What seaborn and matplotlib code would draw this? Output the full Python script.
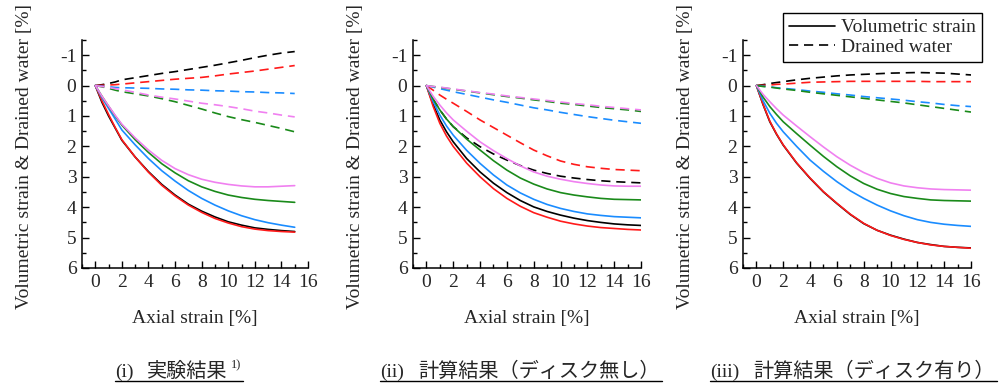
import numpy as np
import pandas as pd
import matplotlib
matplotlib.use("Agg")
import matplotlib.pyplot as plt
import seaborn as sns
from matplotlib.lines import Line2D
from matplotlib.ticker import MultipleLocator


# ======================================================
# DATA
# ======================================================

CASES = ["black", "red", "blue", "green", "pink"]

# (i) experiment, axial strain up to 15 %
x_exp = [0, 0.5, 1, 1.5, 2, 3, 4, 5, 6, 7, 8, 9, 10, 11, 12, 13, 14, 15]

exp_vol = {
    "black": [0, 0.55, 1.0, 1.4, 1.8, 2.35, 2.83, 3.25, 3.6, 3.9, 4.13, 4.32, 4.48, 4.59, 4.68, 4.73, 4.77, 4.80],
    "red":   [0, 0.5, 0.95, 1.38, 1.78, 2.35, 2.85, 3.28, 3.63, 3.93, 4.17, 4.37, 4.52, 4.64, 4.72, 4.77, 4.80, 4.82],
    "blue":  [0, 0.4, 0.75, 1.1, 1.46, 1.95, 2.4, 2.8, 3.14, 3.45, 3.71, 3.93, 4.12, 4.28, 4.41, 4.51, 4.59, 4.66],
    "green": [0, 0.35, 0.68, 1.0, 1.3, 1.78, 2.2, 2.57, 2.87, 3.13, 3.33, 3.48, 3.6, 3.68, 3.74, 3.78, 3.81, 3.84],
    "pink":  [0, 0.35, 0.67, 0.98, 1.27, 1.72, 2.12, 2.46, 2.73, 2.93, 3.08, 3.18, 3.25, 3.3, 3.33, 3.33, 3.31, 3.29],
}

exp_water = {
    "black": [0, -0.03, -0.07, -0.12, -0.19, -0.26, -0.33, -0.4, -0.46, -0.53, -0.6, -0.67, -0.75, -0.83, -0.92, -1.0, -1.07, -1.12],
    "red":   [0, -0.01, -0.02, -0.03, -0.05, -0.09, -0.13, -0.17, -0.21, -0.24, -0.27, -0.32, -0.38, -0.43, -0.48, -0.54, -0.6, -0.66],
    "blue":  [0, 0.02, 0.04, 0.06, 0.07, 0.08, 0.09, 0.11, 0.12, 0.14, 0.15, 0.17, 0.18, 0.2, 0.21, 0.23, 0.24, 0.26],
    "green": [0, 0.04, 0.09, 0.15, 0.2, 0.27, 0.34, 0.43, 0.53, 0.65, 0.77, 0.9, 1.02, 1.12, 1.21, 1.31, 1.41, 1.52],
    "pink":  [0, 0.03, 0.06, 0.1, 0.14, 0.22, 0.31, 0.38, 0.44, 0.51, 0.58, 0.63, 0.69, 0.76, 0.84, 0.9, 0.97, 1.03],
}

# (ii) / (iii) calculations, axial strain up to 16 %
x_calc = [0, 0.5, 1, 1.5, 2, 3, 4, 5, 6, 7, 8, 9, 10, 11, 12, 13, 14, 15, 16]

nodisk_vol = {
    "black": [0, 0.62, 1.13, 1.52, 1.85, 2.4, 2.84, 3.21, 3.52, 3.78, 3.99, 4.14, 4.26, 4.36, 4.44, 4.5, 4.55, 4.58, 4.6],
    "red":   [0, 0.68, 1.24, 1.66, 2.0, 2.55, 3.0, 3.39, 3.71, 3.97, 4.18, 4.33, 4.46, 4.55, 4.62, 4.67, 4.70, 4.73, 4.75],
    "blue":  [0, 0.52, 0.97, 1.33, 1.63, 2.13, 2.56, 2.94, 3.27, 3.53, 3.74, 3.91, 4.04, 4.14, 4.22, 4.27, 4.31, 4.33, 4.35],
    "green": [0, 0.44, 0.8, 1.1, 1.35, 1.76, 2.12, 2.47, 2.78, 3.04, 3.24, 3.4, 3.52, 3.6, 3.66, 3.71, 3.74, 3.75, 3.76],
    "pink":  [0, 0.35, 0.64, 0.9, 1.13, 1.5, 1.85, 2.14, 2.4, 2.64, 2.84, 2.98, 3.08, 3.16, 3.22, 3.27, 3.3, 3.31, 3.31],
}

nodisk_water = {
    "black": [0, 0.45, 0.8, 1.1, 1.35, 1.72, 2.01, 2.25, 2.45, 2.63, 2.78, 2.89, 2.98, 3.04, 3.09, 3.13, 3.16, 3.18, 3.2],
    "red":   [0, 0.15, 0.31, 0.45, 0.58, 0.85, 1.13, 1.38, 1.63, 1.88, 2.12, 2.31, 2.48, 2.59, 2.67, 2.72, 2.76, 2.78, 2.8],
    "blue":  [0, 0.05, 0.1, 0.15, 0.2, 0.29, 0.38, 0.47, 0.55, 0.64, 0.73, 0.8, 0.88, 0.95, 1.02, 1.08, 1.14, 1.19, 1.24],
    "green": [0, 0.03, 0.06, 0.09, 0.12, 0.18, 0.24, 0.3, 0.36, 0.41, 0.47, 0.52, 0.58, 0.62, 0.67, 0.72, 0.76, 0.8, 0.85],
    "pink":  [0, 0.03, 0.05, 0.08, 0.11, 0.17, 0.23, 0.28, 0.34, 0.39, 0.44, 0.49, 0.54, 0.59, 0.63, 0.68, 0.72, 0.76, 0.8],
}

disk_vol = {
    "black": [0, 0.63, 1.19, 1.6, 1.96, 2.55, 3.05, 3.5, 3.88, 4.24, 4.54, 4.76, 4.92, 5.05, 5.16, 5.23, 5.29, 5.32, 5.34],
    "red":   [0, 0.62, 1.17, 1.59, 1.95, 2.54, 3.04, 3.49, 3.87, 4.23, 4.53, 4.76, 4.93, 5.06, 5.16, 5.24, 5.29, 5.32, 5.35],
    "blue":  [0, 0.5, 0.91, 1.24, 1.52, 2.0, 2.45, 2.82, 3.16, 3.46, 3.71, 3.93, 4.12, 4.28, 4.41, 4.5, 4.56, 4.6, 4.63],
    "green": [0, 0.38, 0.69, 0.95, 1.19, 1.58, 1.96, 2.33, 2.67, 2.97, 3.22, 3.41, 3.55, 3.65, 3.71, 3.76, 3.78, 3.79, 3.8],
    "pink":  [0, 0.29, 0.53, 0.76, 0.97, 1.33, 1.68, 2.02, 2.34, 2.62, 2.86, 3.05, 3.2, 3.3, 3.36, 3.4, 3.42, 3.43, 3.44],
}

disk_water = {
    "black": [0, -0.03, -0.07, -0.1, -0.13, -0.19, -0.24, -0.28, -0.32, -0.35, -0.37, -0.39, -0.41, -0.42, -0.43, -0.42, -0.41, -0.38, -0.35],
    "red":   [0, -0.01, -0.02, -0.04, -0.05, -0.08, -0.11, -0.12, -0.13, -0.14, -0.14, -0.14, -0.14, -0.14, -0.14, -0.13, -0.13, -0.13, -0.13],
    "blue":  [0, 0.02, 0.04, 0.07, 0.09, 0.13, 0.18, 0.22, 0.27, 0.31, 0.36, 0.4, 0.44, 0.48, 0.53, 0.57, 0.62, 0.66, 0.69],
    "green": [0, 0.03, 0.05, 0.08, 0.11, 0.16, 0.22, 0.27, 0.32, 0.37, 0.42, 0.47, 0.52, 0.57, 0.63, 0.69, 0.75, 0.81, 0.87],
}

CAPTIONS = [("(i)", "実験結果", "1)"),
            ("(ii)", "計算結果（ディスク無し）", ""),
            ("(iii)", "計算結果（ディスク有り）", "")]

X_TICKS = list(range(0, 17, 2))
Y_TICKS = list(range(-1, 7))


# ======================================================
# STYLE
# ======================================================

sns.set_style("ticks")
plt.rcParams["font.family"] = ["Liberation Serif", "Noto Sans CJK JP"]
plt.rcParams["axes.unicode_minus"] = False
plt.rcParams["font.size"] = 13

PALETTE = {
    "black": "#000000",
    "red": "#ff1a1a",
    "blue": "#1a8cff",
    "green": "#1a8a1a",
    "pink": "#f080f0",
}
DASH = (5.5, 3.5)
DASHES = {"vol": "", "water": DASH}


# ======================================================
# HELPERS
# ======================================================

def to_long(x, vol, water):
    rows = []
    for kind, series in (("water", water), ("vol", vol)):
        for case in CASES:
            if case not in series:
                continue
            for xi, yi in zip(x, series[case]):
                rows.append({"axial": xi, "value": yi, "case": case, "kind": kind})
    return pd.DataFrame(rows)


def style_axis(ax):
    ax.set_xlim(-1, 16)
    ax.set_ylim(6, -1.5)
    ax.set_xticks(X_TICKS)
    ax.set_yticks(Y_TICKS)
    ax.set_yticklabels([str(v) for v in Y_TICKS])
    ax.xaxis.set_minor_locator(MultipleLocator(1))
    ax.yaxis.set_minor_locator(MultipleLocator(0.5))
    ax.tick_params(which="major", direction="in", length=5, width=1,
                   labelsize=14, pad=4, color="black")
    ax.tick_params(which="minor", direction="in", length=3, width=1, color="black")
    for side in ("top", "right"):
        ax.spines[side].set_visible(False)
    for side in ("left", "bottom"):
        ax.spines[side].set_linewidth(1.1)
        ax.spines[side].set_color("black")
    ax.set_xlabel("Axial strain [%]", fontsize=14, labelpad=14)
    ax.set_ylabel("Volumetric strain & Drained water [%]", fontsize=14)
    ax.yaxis.set_label_coords(-0.215, 0.487)


# ======================================================
# PLOT
# ======================================================

def main():

    fig = plt.figure(figsize=(10.07, 3.83), dpi=100)
    W, H = 1007, 383

    lefts = [82, 413, 743]
    widths = [226, 228, 228]
    panels = [
        (x_exp, exp_vol, exp_water),
        (x_calc, nodisk_vol, nodisk_water),
        (x_calc, disk_vol, disk_water),
    ]

    axes = []
    for left, width, (x, vol, water) in zip(lefts, widths, panels):
        ax = fig.add_axes([left / W, 1 - 268 / H, width / W, 228 / H])
        df = to_long(x, vol, water)
        sns.lineplot(
            data=df, x="axial", y="value",
            hue="case", style="kind",
            palette=PALETTE, dashes=DASHES,
            estimator=None, linewidth=1.2,
            legend=False, ax=ax
        )
        style_axis(ax)
        axes.append(ax)

    # legend in the third panel corner
    handles = [
        Line2D([], [], color="black", lw=1.2, ls="-"),
        Line2D([], [], color="black", lw=1.2, dashes=DASH),
    ]
    leg = fig.legend(
        handles, ["Volumetric strain", "Drained water"],
        loc="upper right", bbox_to_anchor=(982 / W, 1 - 13 / H),
        frameon=True, fancybox=False, edgecolor="black", framealpha=1,
        fontsize=14, handlelength=2.4, handletextpad=0.3,
        borderpad=0.3, labelspacing=0.1, borderaxespad=0
    )
    leg.get_frame().set_linewidth(1.0)

    # captions with underline
    starts = [115, 380, 710]
    cjk_starts = [147, 418, 753]
    base_y = 1 - 377 / H
    texts = []
    for (prefix, body, sup), x0, x1 in zip(CAPTIONS, starts, cjk_starts):
        t1 = fig.text(x0 / W, base_y, prefix, fontsize=14, va="baseline",
                      family=["Liberation Serif"])
        t2 = fig.text(x1 / W, base_y, body, fontsize=14.5, va="baseline",
                      family=["Noto Sans CJK JP"])
        group = [t1, t2]
        if sup:
            t3 = fig.text(231 / W, base_y + 9 / H, sup, fontsize=9,
                          va="baseline", family=["Liberation Serif"])
            group.append(t3)
        texts.append(group)

    fig.canvas.draw()
    renderer = fig.canvas.get_renderer()
    for group in texts:
        x_left = min(t.get_window_extent(renderer).x0 for t in group)
        x_right = max(t.get_window_extent(renderer).x1 for t in group) + 2
        y_line = 1 - 381 / H
        fig.add_artist(Line2D([x_left / W, x_right / W], [y_line, y_line],
                              transform=fig.transFigure, color="black", lw=1.0))

    fig.savefig("out.png", dpi=100)


if __name__ == "__main__":
    main()
